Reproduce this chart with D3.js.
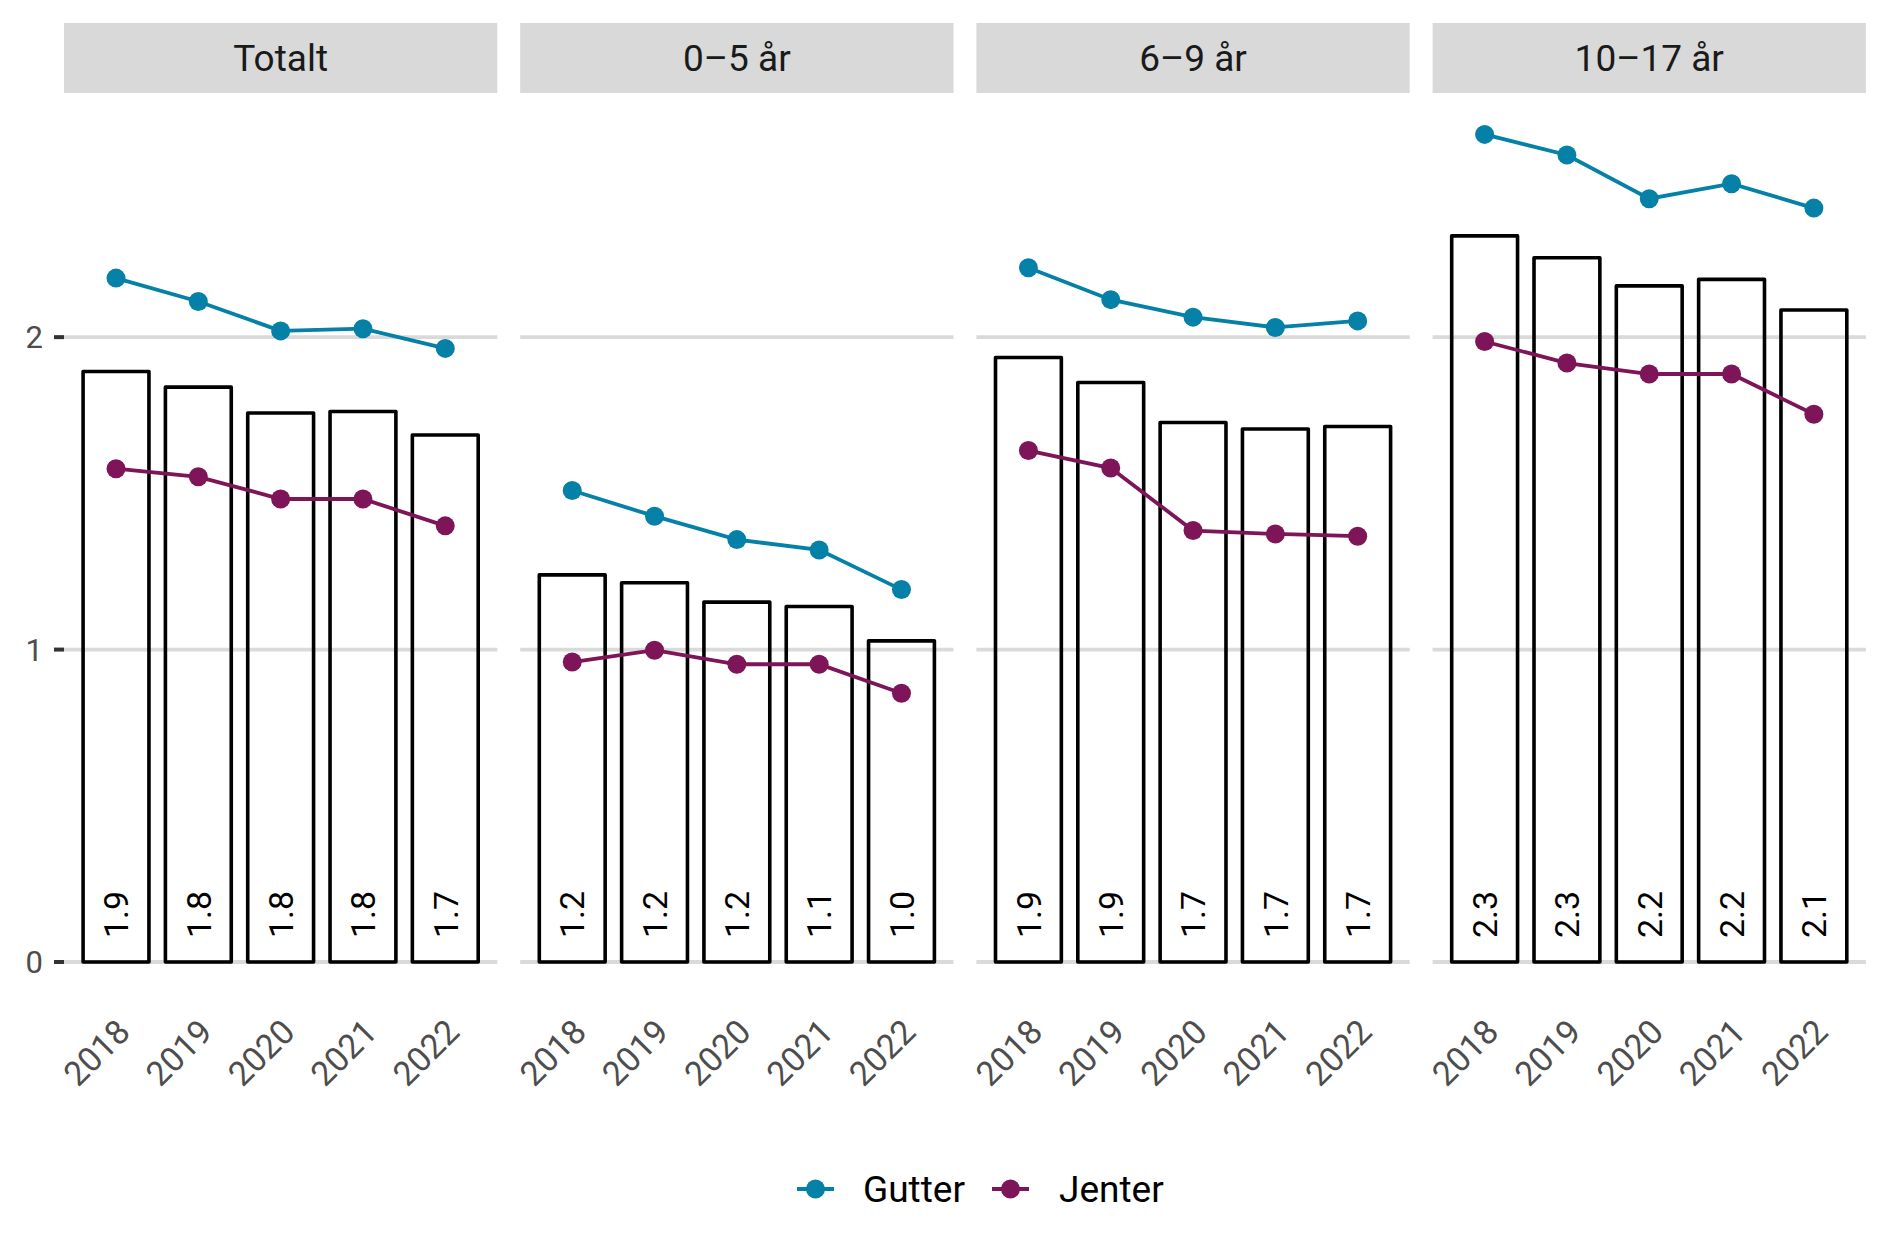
<!DOCTYPE html>
<html>
<head>
<meta charset="utf-8">
<script src="https://cdn.jsdelivr.net/npm/d3@7"></script>
<style>
  body { margin: 0; background: #fff; }
  text { font-family: Roboto, "Noto Sans", sans-serif; }
</style>
</head>
<body>
<div id="wrapper"></div>
<script>
// data
var years = ["2018", "2019", "2020", "2021", "2022"];
var groups = ["Totalt", "0–5 år", "6–9 år", "10–17 år"];
var totalt = [
  [1.890, 1.840, 1.757, 1.762, 1.687],
  [1.239, 1.214, 1.152, 1.138, 1.028],
  [1.935, 1.855, 1.727, 1.706, 1.714],
  [2.324, 2.254, 2.164, 2.185, 2.087]
];
var gutter = [
  [2.189, 2.114, 2.020, 2.027, 1.964],
  [1.509, 1.427, 1.352, 1.319, 1.192],
  [2.222, 2.120, 2.064, 2.031, 2.052],
  [2.649, 2.583, 2.443, 2.491, 2.413]
];
var jenter = [
  [1.579, 1.553, 1.482, 1.482, 1.396],
  [0.960, 0.998, 0.953, 0.953, 0.860],
  [1.637, 1.581, 1.381, 1.370, 1.363],
  [1.986, 1.917, 1.882, 1.882, 1.753]
];
var yTicks = [0, 1, 2];
var seriesNames = ["Gutter", "Jenter"];
var seriesColors = ["#0580a6", "#7d1558"];

var width = 1889, height = 1259;
var dims = {
  left: 64, top: 23, stripH: 70, panelW: 433.3, gap: 22.9, bottom: 962
};
var panelTop = dims.top + dims.stripH;

var svg = d3.select("#wrapper").append("svg")
  .attr("width", width)
  .attr("height", height);
svg.append("rect").attr("width", width).attr("height", height).attr("fill", "#fff");

var yMax = d3.max([].concat(d3.merge(totalt), d3.merge(gutter), d3.merge(jenter)));
var yScale = d3.scaleLinear()
  .domain([0, yMax * 1.05])
  .range([dims.bottom, panelTop]);

var xScale = d3.scaleLinear()
  .domain([1 - 0.632, years.length + 0.632])
  .range([0, dims.panelW]);
var barW = xScale(1.8) - xScale(1);
var fmt = d3.format(".1f");

groups.forEach(function (g, gi) {
  var x0 = dims.left + gi * (dims.panelW + dims.gap);
  var panel = svg.append("g").attr("transform", "translate(" + x0 + ",0)");

  // strip
  panel.append("rect")
    .attr("x", 0).attr("y", dims.top)
    .attr("width", dims.panelW).attr("height", dims.stripH)
    .attr("fill", "#d9d9d9");
  panel.append("text")
    .attr("x", dims.panelW / 2)
    .attr("y", dims.top + dims.stripH / 2 + 13)
    .attr("text-anchor", "middle")
    .attr("fill", "#1a1a1a")
    .style("font-size", "37px")
    .text(g);

  // gridlines
  panel.selectAll("line.grid").data(yTicks).enter().append("line")
    .attr("class", "grid")
    .attr("x1", 0).attr("x2", dims.panelW)
    .attr("y1", function (d) { return yScale(d); })
    .attr("y2", function (d) { return yScale(d); })
    .attr("stroke", "#dadada")
    .attr("stroke-width", 3.8);

  // bars
  panel.selectAll("rect.bar").data(totalt[gi]).enter().append("rect")
    .attr("class", "bar")
    .attr("x", function (d, i) { return xScale(i + 1) - barW / 2; })
    .attr("y", function (d) { return yScale(d); })
    .attr("width", barW)
    .attr("height", function (d) { return yScale(0) - yScale(d); })
    .attr("fill", "none")
    .attr("stroke", "#000")
    .attr("stroke-width", 3.6)
    .attr("stroke-linejoin", "round");

  panel.selectAll("text.barlab").data(totalt[gi]).enter().append("text")
    .attr("class", "barlab")
    .attr("transform", function (d, i) {
      return "translate(" + (xScale(i + 1)) + "," + (yScale(0) - 24) + ") rotate(-90)";
    })
    .attr("dy", "0.36em")
    .attr("fill", "#000")
    .style("font-size", "34px")
    .text(function (d) { return fmt(d); });

  // lines + points
  [gutter, jenter].forEach(function (series, si) {
    var vals = series[gi];
    var line = d3.line()
      .x(function (d, i) { return xScale(i + 1); })
      .y(function (d) { return yScale(d); });
    panel.append("path")
      .datum(vals)
      .attr("d", line)
      .attr("fill", "none")
      .attr("stroke", seriesColors[si])
      .attr("stroke-width", 3.8);
    panel.selectAll("circle.s" + si).data(vals).enter().append("circle")
      .attr("class", "s" + si)
      .attr("cx", function (d, i) { return xScale(i + 1); })
      .attr("cy", function (d) { return yScale(d); })
      .attr("r", 9.5)
      .attr("fill", seriesColors[si]);
  });

  // x tick labels
  panel.selectAll("text.xlab").data(years).enter().append("text")
    .attr("class", "xlab")
    .attr("transform", function (d, i) {
      return "translate(" + (xScale(i + 1) + 16) + "," + (dims.bottom + 72) + ") rotate(-45)";
    })
    .attr("text-anchor", "end")
    .attr("fill", "#4d4d4d")
    .style("font-size", "34px")
    .text(function (d) { return d; });
});

// y axis (left of first panel)
var yAxis = svg.append("g").attr("transform", "translate(" + dims.left + ",0)");
yAxis.selectAll("line").data(yTicks).enter().append("line")
  .attr("x1", -10).attr("x2", 0)
  .attr("y1", function (d) { return yScale(d); })
  .attr("y2", function (d) { return yScale(d); })
  .attr("stroke", "#333")
  .attr("stroke-width", 4);
yAxis.selectAll("text").data(yTicks).enter().append("text")
  .attr("x", -21)
  .attr("y", function (d) { return yScale(d); })
  .attr("dy", "0.36em")
  .attr("text-anchor", "end")
  .attr("fill", "#4d4d4d")
  .style("font-size", "31px")
  .text(function (d) { return d; });

// legend
var legendY = 1189;
var legendItems = [{ x: 797, tx: 863 }, { x: 992, tx: 1059 }];
seriesNames.forEach(function (name, si) {
  var it = legendItems[si];
  var lg = svg.append("g");
  lg.append("line")
    .attr("x1", it.x).attr("x2", it.x + 37)
    .attr("y1", legendY).attr("y2", legendY)
    .attr("stroke", seriesColors[si])
    .attr("stroke-width", 3.8);
  lg.append("circle")
    .attr("cx", it.x + 18.5).attr("cy", legendY)
    .attr("r", 9.5)
    .attr("fill", seriesColors[si]);
  lg.append("text")
    .attr("x", it.tx).attr("y", legendY + 13)
    .attr("fill", "#000")
    .style("font-size", "37px")
    .text(name);
});
</script>
</body>
</html>
